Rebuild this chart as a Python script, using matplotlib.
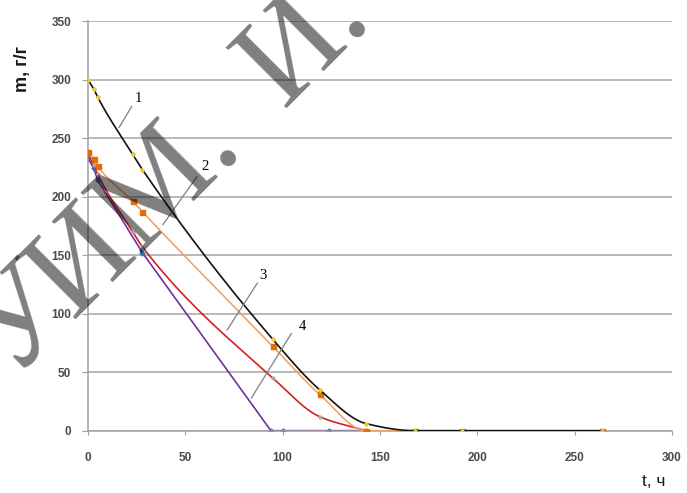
import numpy as np
import matplotlib
matplotlib.use("Agg")
import matplotlib.pyplot as plt

# %% DATA: mass m (g/g) versus time t (h), four runs
t_common = [0, 3, 5, 23, 28, 95, 119, 143, 168, 192, 264]
m_curve1 = [300, 292, 285, 236, 223, 78, 35, 6, 0, 0, 0]
m_curve2 = [238, 232, 226, 196, 187, 72, 31, 0, 0, 0, 0]

t_curve3 = [0, 3, 5, 23, 28, 95, 119, 143]
m_curve3 = [236, 227, 219, 170, 157, 45, 12, 0]

t_curve4 = [0, 3, 5, 28, 94, 100, 124, 143]
m_curve4 = [233, 224, 214, 152, 0, 0, 0, 0]

curve_labels = ["1", "2", "3", "4"]
label_text_xy = [(26, 284), (60, 226), (90, 133), (110, 89)]
leader_start = [(16, 259), (38.5, 176), (71.5, 86), (84, 28)]
leader_end = [(22.5, 277), (56, 217), (87, 126), (104.5, 83)]

x_ticks = [0, 50, 100, 150, 200, 250, 300]
y_ticks = [0, 50, 100, 150, 200, 250, 300, 350]

# watermark pieces along one 45-degree baseline
watermark_pieces = ["ГУ", "ИМ.", "И."]
watermark_ends = [-165, 68, 250]   # right end of each piece along the baseline, px
WATERMARK_BASELINE = 391           # x + y of the baseline, px from top-left
WATERMARK_SIZE = 94

W_PX, H_PX = 687, 493


def smooth(x, y, n=40):
    """Monotone cubic (Fritsch-Carlson) line through the points, like a smoothed line in a spreadsheet."""
    x = np.asarray(x, float)
    y = np.asarray(y, float)
    h = np.diff(x)
    d = np.diff(y) / h
    m = np.zeros_like(y)
    m[0], m[-1] = d[0], d[-1]
    for i in range(1, len(x) - 1):
        if d[i - 1] * d[i] <= 0:
            m[i] = 0.0
        else:
            w1 = 2 * h[i] + h[i - 1]
            w2 = h[i] + 2 * h[i - 1]
            m[i] = (w1 + w2) / (w1 / d[i - 1] + w2 / d[i])
    xs, ys = [], []
    for i in range(len(x) - 1):
        s = np.linspace(0, 1, n, endpoint=False)
        h00 = 2 * s**3 - 3 * s**2 + 1
        h10 = s**3 - 2 * s**2 + s
        h01 = -2 * s**3 + 3 * s**2
        h11 = s**3 - s**2
        xs.append(x[i] + s * h[i])
        ys.append(h00 * y[i] + h10 * h[i] * m[i] + h01 * y[i + 1] + h11 * h[i] * m[i + 1])
    xs.append([x[-1]])
    ys.append([y[-1]])
    return np.concatenate(xs), np.concatenate(ys)


# %% FIGURE
fig = plt.figure(figsize=(W_PX / 100, H_PX / 100), dpi=100)
ax = fig.add_axes([0.128, 0.1264, 0.85, 0.831])

tick_font = dict(family="Liberation Sans", size=8.5, weight="bold", color="#4a4a4a")

# (t, m, line colour, marker, marker colour, marker size, zorder, smoothed)
series = [
    (t_curve4, m_curve4, "#7030a0", "D", "#2e75b6", 2.5, 2, False),
    (t_curve3, m_curve3, "#d42020", "o", "#a8a8a8", 2.0, 3, True),
    (t_common, m_curve2, "#f2a36a", "s", "#e26b0a", 3.6, 4, True),
    (t_common, m_curve1, "#111111", "D", "#e8c840", 2.0, 5, True),
]
for t, m, line_color, marker, marker_color, msize, z, smoothed in series:
    xs, ys = smooth(t, m) if smoothed else (t, m)
    ax.plot(xs, ys, color=line_color, lw=1.2, zorder=z, solid_capstyle="round")
    ax.plot(t, m, ls="none", marker=marker, ms=msize, color=marker_color,
            mec=marker_color, zorder=z + 0.5)

# curve numbers with leader lines
for label, txy, p0, p1 in zip(curve_labels, label_text_xy, leader_start, leader_end):
    ax.plot([p0[0], p1[0]], [p0[1], p1[1]], color="#7f7f7f", lw=0.9, zorder=6)
    ax.text(txy[0], txy[1], label, family="Liberation Serif", fontsize=10.5,
            ha="center", va="center", zorder=6)

ax.set_xlim(0, 300)
ax.set_ylim(0, 350)
ax.set_xticks(x_ticks)
ax.set_yticks(y_ticks)
ax.set_xticklabels([str(v) for v in x_ticks], **tick_font)
ax.set_yticklabels([str(v) for v in y_ticks], **tick_font)
ax.tick_params(axis="x", direction="out", length=3, color="#a0a0a0", pad=12)
ax.tick_params(axis="y", direction="out", length=4, color="#a0a0a0", pad=8)

ax.yaxis.grid(True, color="#a6a6a6", lw=1.1)
ax.set_axisbelow(True)
for side in ["top", "right"]:
    ax.spines[side].set_visible(False)
for side in ["left", "bottom"]:
    ax.spines[side].set_color("#a0a0a0")
    ax.spines[side].set_linewidth(1.1)

fig.text(22 / W_PX, 1 - 69 / H_PX, "m, г/г", rotation=90, ha="center", va="center",
         family="Liberation Sans", fontsize=13, fontweight="bold", color="#1a1a1a")
fig.text(654 / W_PX, 1 - 482 / H_PX, "t, ч", ha="center", va="center",
         family="Liberation Sans", fontsize=12.5, color="#1a1a1a")

# diagonal watermark: each piece is anchored at its right end on the baseline
for piece, s_end in zip(watermark_pieces, watermark_ends):
    px = (WATERMARK_BASELINE + s_end * np.sqrt(2)) / 2
    py = (WATERMARK_BASELINE - s_end * np.sqrt(2)) / 2
    fig.text(px / W_PX, 1 - py / H_PX, piece, rotation=45, rotation_mode="anchor",
             ha="right", va="baseline", family="Liberation Serif",
             fontsize=WATERMARK_SIZE, color="black", alpha=0.5, zorder=10)

fig.savefig("out.png", dpi=100)
